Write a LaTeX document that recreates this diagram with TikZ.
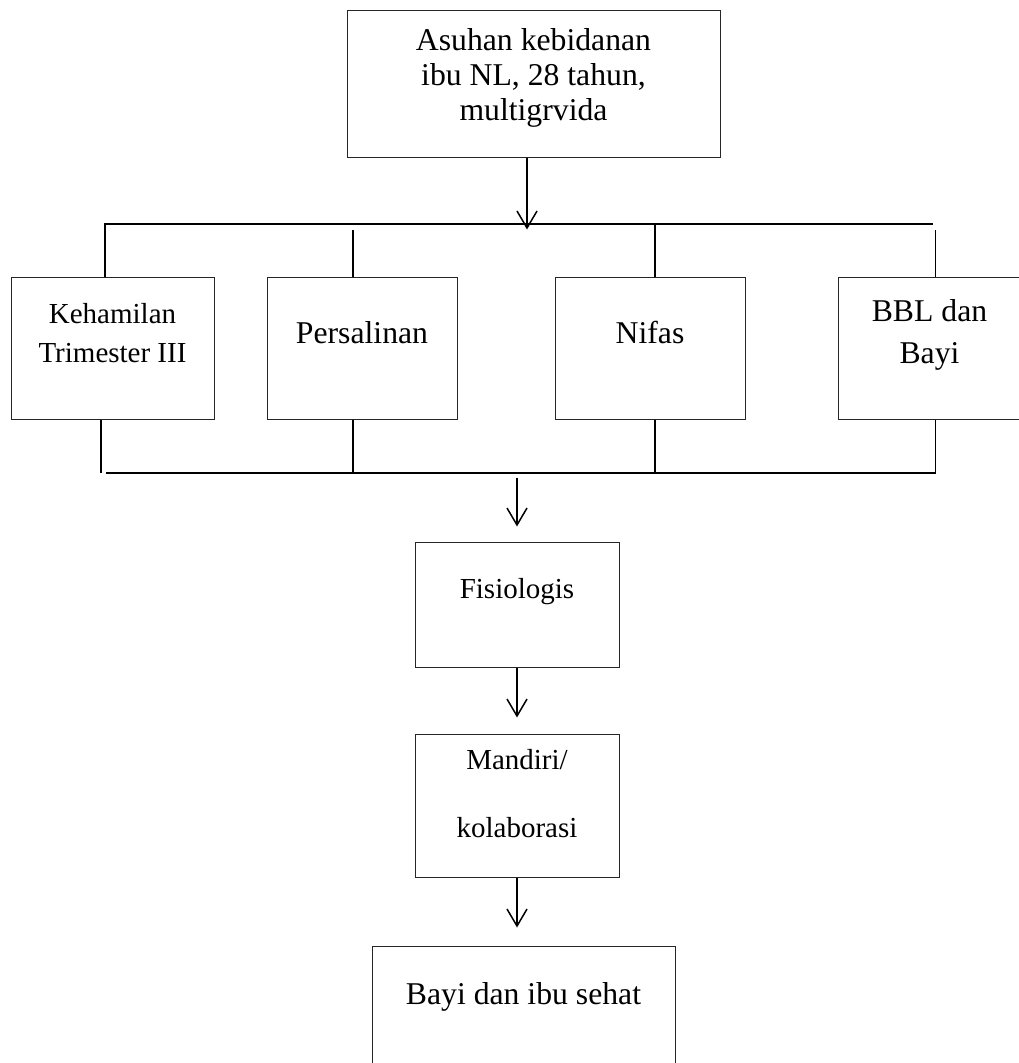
\documentclass[tikz,border=0pt]{standalone}
\usepackage{fontspec}
\setmainfont{Liberation Serif}
\usetikzlibrary{positioning,arrows.meta}

\tikzset{
    box/.style={draw=black!85, line width=1pt, inner sep=0pt, align=center, text depth=32pt},
    link/.style={line width=1.5pt},
    arrow/.style={link, -{Straight Barb[length=17pt,width=20pt]}},
    bigtext/.style={font=\fontsize{31.7}{35}\selectfont},
    smalltext/.style={font=\fontsize{29}{39}\selectfont},
}

\begin{document}
\begin{tikzpicture}[x=1pt, y=-1pt]
            \useasboundingbox (0,0) rectangle (1019,1063);

            \node [box, bigtext, minimum width=373pt, minimum height=147pt, text depth=18.6pt] (asuhan) at (533.5,83.5) {Asuhan kebidanan\\ibu NL, 28 tahun,\\multigrvida};

            \node [box, smalltext, minimum width=203pt, minimum height=142pt, text depth=31pt] (hamil) at (112.5,348) {Kehamilan\\Trimester III};
            \node [box, bigtext, minimum width=190pt, minimum height=142pt, right=52pt of hamil] (salin) {Persalinan};
            \node [box, bigtext, minimum width=190pt, minimum height=142pt, right=97pt of salin] (nifas) {Nifas};
            \node [box, bigtext, minimum width=183pt, minimum height=142pt, text depth=33.6pt, right=92pt of nifas] (bbl) {BBL dan\\[7pt]Bayi};

            \node [box, smalltext, minimum width=204pt, minimum height=125pt, text depth=32.7pt] (fisio) at (517,604.5) {Fisiologis};
            \node [box, smalltext, minimum width=204pt, minimum height=143pt, text depth=24.7pt, below=66pt of fisio] (mandiri) {Mandiri/\\[29pt]kolaborasi};
            \node [box, bigtext, minimum width=303pt, minimum height=126pt, below=68pt of mandiri, xshift=6.5pt] (sehat) {Bayi dan ibu sehat};

            \coordinate (fork) at (933,224);
            \coordinate (join) at (106,473);

            \draw [arrow] ([xshift=-6.5pt]asuhan.south) -- ++(0,72);

            \draw [link] ([xshift=-7.5pt]hamil.north) |- (fork);
            \draw [link] ([xshift=-9pt]salin.north) -- ++(0,-47);
            \draw [link] ([xshift=5pt]nifas.north) -- ++(0,-53);
            \draw [link] ([xshift=6pt]bbl.north) -- ++(0,-47);

            \draw [link] ([xshift=-11.5pt]hamil.south) -- ++(0,53);
            \draw [link] ([xshift=-9pt]salin.south) -- ++(0,54);
            \draw [link] ([xshift=5pt]nifas.south) -- ++(0,54);
            \draw [link] ([xshift=6pt]bbl.south) |- (join);

            \draw [arrow] ([yshift=64pt]fisio.north) -- ([yshift=15pt]fisio.north);
            \draw [arrow] (fisio.south) -- ([yshift=16pt]mandiri.north);
            \draw [arrow] (mandiri.south) -- ++(0,50);
        \end{tikzpicture}
\end{document}
